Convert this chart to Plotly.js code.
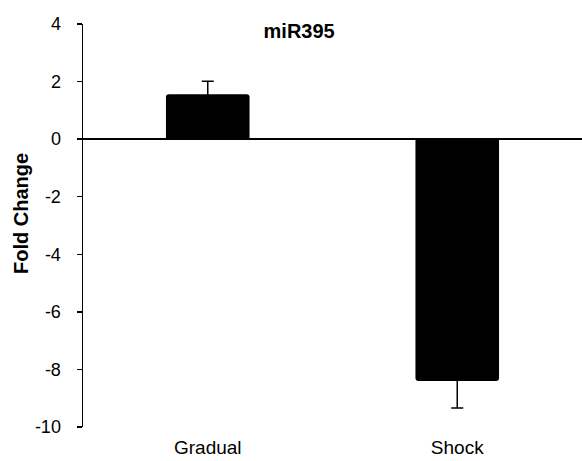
<!DOCTYPE html>
<html>
<head>
<meta charset="utf-8">
<script src="https://cdn.plot.ly/plotly-3.0.1.min.js"></script>
<style>html,body{margin:0;padding:0;background:#fff;}#chart{width:582px;height:461px;}</style>
</head>
<body>
<div id="chart"></div>
<script>
const categories = ["Gradual", "Shock"];
const foldChange = [1.56, -8.40];
const errors = [0.45, 0.94];
const yTicks = [-10, -8, -6, -4, -2, 0, 2, 4];
const titleText = "miR395";
const yTitleText = "Fold Change";

const fontFam = "Liberation Sans, Arial, sans-serif";

const trace = {
  type: "bar",
  x: categories,
  y: foldChange,
  width: 0.335,
  marker: {color: "#000000", line: {color: "#000000", width: 0}, cornerradius: 3},
  error_y: {type: "data", array: errors, visible: true, color: "#000000", thickness: 1.5, width: 6},
  hoverinfo: "skip"
};

const layout = {
  width: 582, height: 461,
  margin: {l: 83, r: 0, t: 24, b: 34, pad: 0},
  paper_bgcolor: "#ffffff", plot_bgcolor: "#ffffff",
  showlegend: false,
  title: {text: "<b>" + titleText + "</b>", x: 0.514, xref: "container", xanchor: "center",
          y: 1 - 31/461, yref: "container", yanchor: "middle",
          font: {family: fontFam, size: 20, color: "#000"}},
  xaxis: {
    type: "category", range: [-0.5, 1.5],
    showline: false, showgrid: false, zeroline: false, ticks: "",
    ticklabelstandoff: 7,
    tickfont: {family: fontFam, size: 19, color: "#000"}
  },
  yaxis: {
    range: [-10, 4], tickvals: yTicks, ticktext: yTicks.map(String),
    showline: true, linecolor: "#000", linewidth: 1.5,
    ticks: "outside", ticklen: 5, tickwidth: 1.5, tickcolor: "#000",
    ticklabelstandoff: 12,
    showgrid: false,
    zeroline: true, zerolinecolor: "#000", zerolinewidth: 1.5,
    tickfont: {family: fontFam, size: 18, color: "#000"}
  },
  annotations: [{
    text: "<b>" + yTitleText + "</b>", textangle: -90,
    xref: "paper", yref: "paper", x: (21 - 83) / 499, y: (427 - 214) / 403,
    xanchor: "center", yanchor: "middle", showarrow: false,
    font: {family: fontFam, size: 20, color: "#000"}
  }]
};

Plotly.newPlot("chart", [trace], layout, {displayModeBar: false, staticPlot: true});
</script>
</body>
</html>
